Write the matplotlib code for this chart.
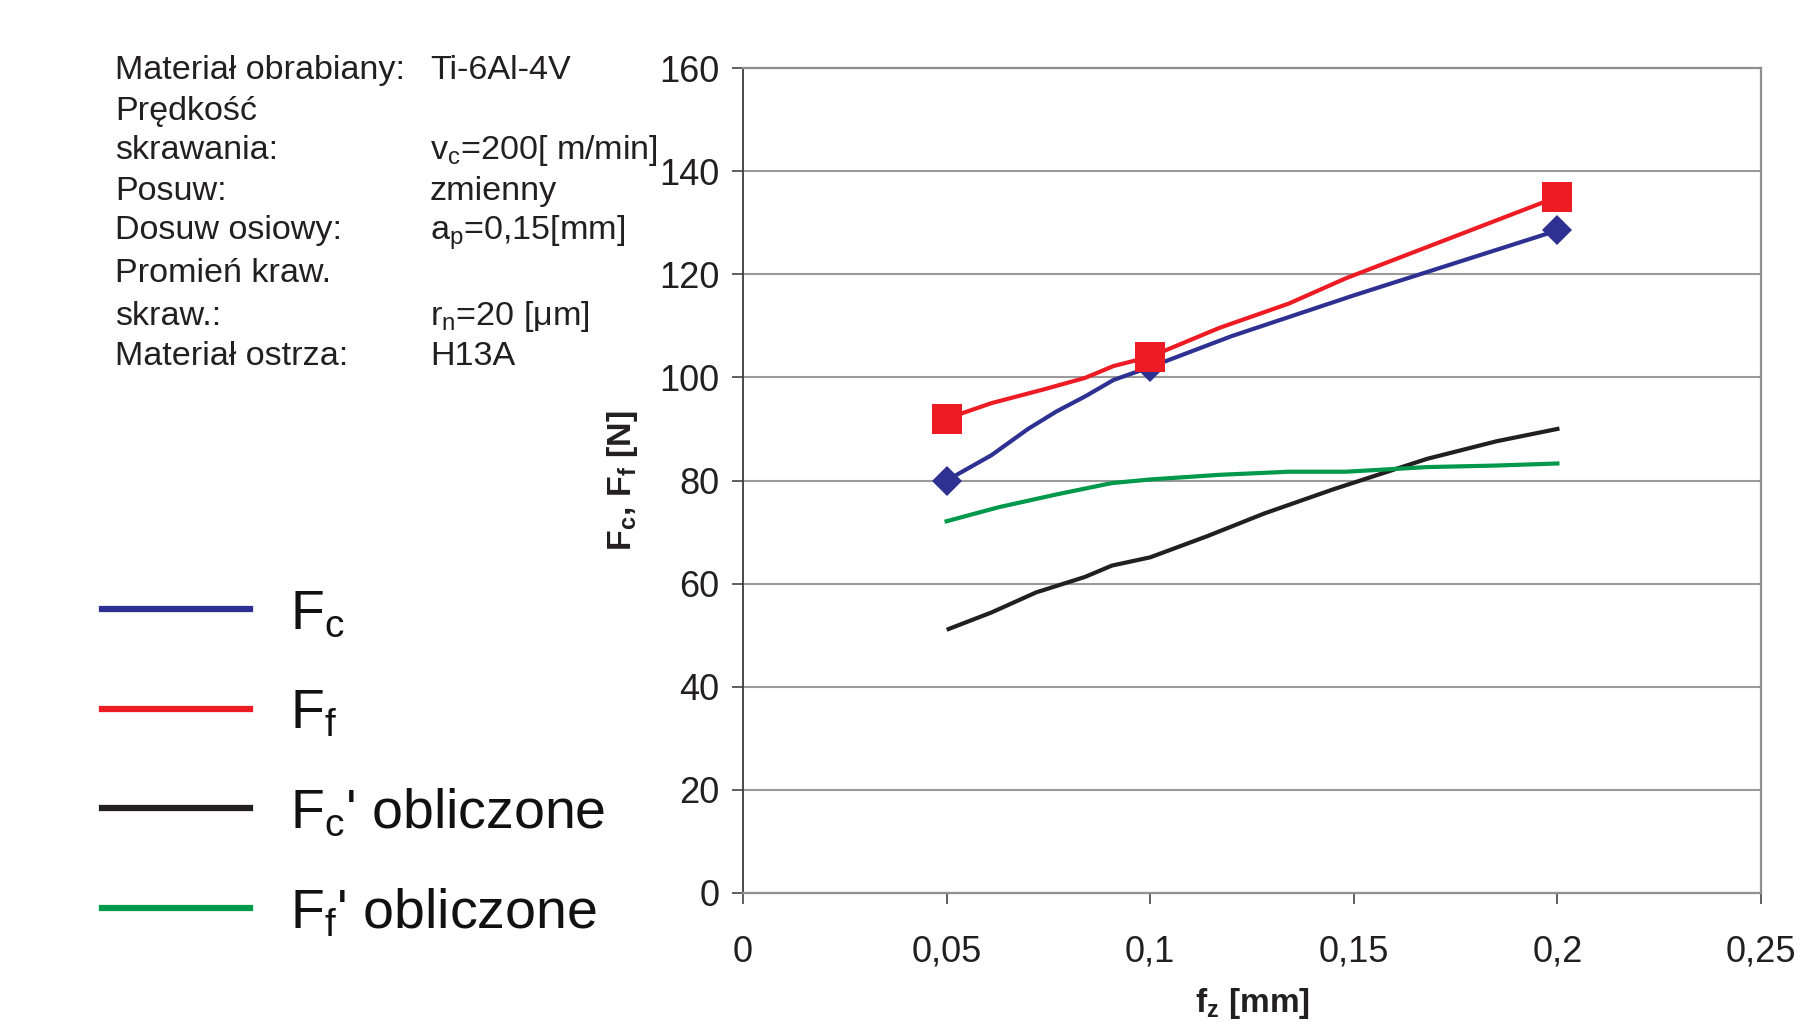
import matplotlib
matplotlib.use("Agg")
import matplotlib.pyplot as plt
from matplotlib.lines import Line2D

plt.rcParams['font.family'] = ['Liberation Sans', 'DejaVu Sans']
plt.rcParams['mathtext.fontset'] = 'custom'
plt.rcParams['mathtext.rm'] = 'Liberation Sans'
plt.rcParams['mathtext.it'] = 'Liberation Sans'
plt.rcParams['mathtext.bf'] = 'Liberation Sans:bold'

# measured points (markers)
f_meas = [0.05, 0.1, 0.2]
fc_meas = [80, 102, 128.5]
ff_meas = [92, 104, 135]

# smoothed curves
f_fc = [0.05, 0.061, 0.07, 0.077, 0.084, 0.091, 0.1, 0.12, 0.15, 0.2]
fc_curve = [80, 84.9, 90.0, 93.4, 96.3, 99.5, 102, 108, 115.9, 128.5]
f_ff = [0.05, 0.061, 0.074, 0.084, 0.091, 0.1, 0.117, 0.134, 0.148, 0.2]
ff_curve = [92, 95, 97.7, 99.9, 102.2, 104, 109.6, 114.3, 119.2, 135]

# calculated values
f_calc = [0.0505, 0.061, 0.072, 0.084, 0.0906, 0.1, 0.114, 0.128, 0.145, 0.168, 0.185, 0.2]
fc_calc = [51.2, 54.4, 58.3, 61.3, 63.5, 65.1, 69.2, 73.6, 78.3, 84.2, 87.6, 90]
f_calc2 = [0.05, 0.0627, 0.077, 0.0906, 0.1, 0.117, 0.134, 0.148, 0.168, 0.185, 0.2]
ff_calc = [72.1, 74.8, 77.3, 79.5, 80.2, 81.1, 81.7, 81.7, 82.6, 82.9, 83.3]

x_ticks = [0, 0.05, 0.1, 0.15, 0.2, 0.25]
x_ticklabels = ['0', '0,05', '0,1', '0,15', '0,2', '0,25']
y_ticks = [0, 20, 40, 60, 80, 100, 120, 140, 160]

info_left = ['Materiał obrabiany:', 'Prędkość', 'skrawania:', 'Posuw:',
             'Dosuw osiowy:', 'Promień kraw.', 'skraw.:', 'Materiał ostrza:']
info_right = ['Ti-6Al-4V', '', r'v$_\mathrm{c}$=200[ m/min]', 'zmienny',
              r'a$_\mathrm{p}$=0,15[mm]', '', r'r$_\mathrm{n}$=20 [μm]', 'H13A']

legend_labels = [r'F$_\mathrm{c}$', r'F$_\mathrm{f}$',
                 r"F$_\mathrm{c}$' obliczone", r"F$_\mathrm{f}$' obliczone"]

BLUE = '#2E3192'
RED = '#ED1C24'
BLACK = '#231F20'
GREEN = '#00984A'
TXT = '#231F20'

W, H = 1820, 1025
fig = plt.figure(figsize=(W / 100, H / 100), dpi=100)
fig.patch.set_facecolor('white')

ax = fig.add_axes([743 / W, 1 - 893 / H, (1761 - 743) / W, (893 - 68) / H])

lw = 3.0
l_fc, = ax.plot(f_fc, fc_curve, color=BLUE, lw=lw, zorder=4)
l_ff, = ax.plot(f_ff, ff_curve, color=RED, lw=lw, zorder=5)
l_cc, = ax.plot(f_calc, fc_calc, color=BLACK, lw=lw, zorder=3)
l_fcc, = ax.plot(f_calc2, ff_calc, color=GREEN, lw=lw, zorder=3)
ax.plot(f_meas, fc_meas, ls='none', marker='D', ms=15.5, color=BLUE, mew=0, zorder=6)
ax.plot(f_meas, ff_meas, ls='none', marker='s', ms=22, color=RED, mew=0, zorder=7)

ax.set_xlim(0, 0.25)
ax.set_ylim(0, 160)
ax.set_xticks(x_ticks)
ax.set_xticklabels(x_ticklabels)
ax.set_yticks(y_ticks)
ax.yaxis.grid(True, color='#9a9a9a', lw=1.5)
ax.set_axisbelow(True)
ax.tick_params(axis='both', labelsize=26, colors='#444444', labelcolor=TXT,
               direction='out', length=8, width=1.2)
ax.tick_params(axis='y', pad=9)
ax.tick_params(axis='x', pad=22)
ax.spines['left'].set_color('#3a3a3a')
ax.spines['left'].set_linewidth(1.3)
for s in ['bottom', 'top', 'right']:
    ax.spines[s].set_color('#8f8f8f')
    ax.spines[s].set_linewidth(1.6)

ax.text((623 - 743) / 1018, 0.5, r'$\mathbf{F_c}$, $\mathbf{F_f}$ [N]', transform=ax.transAxes,
        rotation=90, ha='center', va='center', fontsize=24.5, fontweight='bold', color=TXT)
fig.text(1252 / W, 1 - 1012 / H, r'$\mathbf{f_z}$ [mm]', ha='center', va='baseline',
         fontsize=24, fontweight='bold', color=TXT)

# parameter block
row_y = [67, 108, 147, 188, 227.5, 270, 313, 353]
for y, left, right in zip(row_y, info_left, info_right):
    fig.text(115 / W, 1 - (y + 12) / H, left, fontsize=24.6, va='baseline', color=TXT)
    if right:
        fig.text(430 / W, 1 - (y + 12) / H, right, fontsize=24.6, va='baseline', color=TXT)

# legend drawn by hand to match the layout
for i, (line, label) in enumerate(zip([l_fc, l_ff, l_cc, l_fcc], legend_labels)):
    y = 609 + i * 99.7
    fig.add_artist(Line2D([102 / W, 250 / W], [1 - y / H, 1 - y / H], transform=fig.transFigure,
                          color=line.get_color(), lw=4.5))
    fig.text(290 / W, 1 - (y + 20) / H, label, fontsize=40, va='baseline', color='#111111')

fig.savefig('out.png', dpi=100)
